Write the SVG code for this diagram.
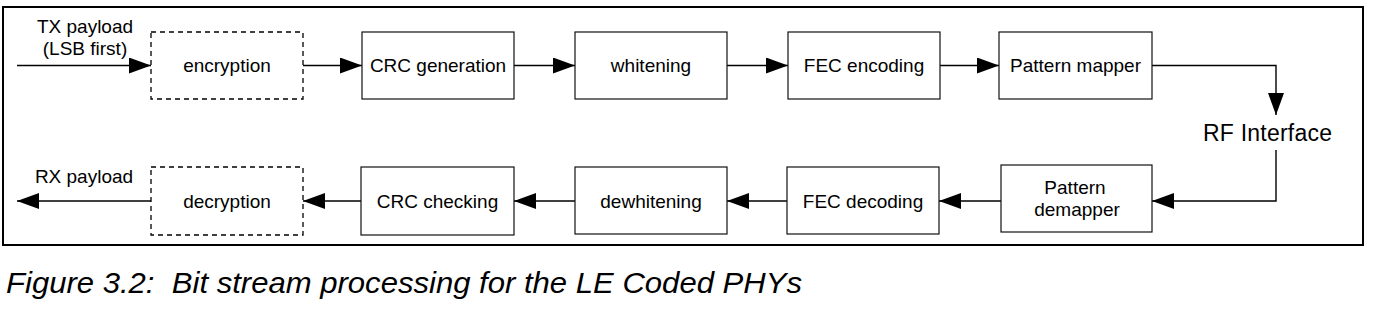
<svg xmlns="http://www.w3.org/2000/svg" width="1374" height="310" viewBox="0 0 1374 310">
<defs>
<style>
.box{fill:#fff;stroke:#111;stroke-width:1.2}
.dash{stroke:#000;stroke-width:1.3;stroke-dasharray:5,4}
.lbl{font-family:"Liberation Sans",Arial,sans-serif;font-size:19px;fill:#000;text-anchor:middle}
.ln{fill:none;stroke:#000;stroke-width:1.4}
.cap{font-family:"Liberation Sans",Arial,sans-serif;font-size:30px;font-style:italic;fill:#000}
</style>
<marker id="ah" markerUnits="userSpaceOnUse" markerWidth="24" markerHeight="18" refX="22" refY="8" orient="auto">
<path d="M0,0 L22,8 L0,16 z" fill="#000"/>
</marker>
</defs>
<rect width="1374" height="310" fill="#fff"/>
<rect x="3" y="7" width="1360" height="238" fill="none" stroke="#000" stroke-width="2"/>

<g id="connectors">
<path class="ln" d="M17,65.5 H151" marker-end="url(#ah)"/>
<path class="ln" d="M303,65.5 H362" marker-end="url(#ah)"/>
<path class="ln" d="M514,65.5 H575" marker-end="url(#ah)"/>
<path class="ln" d="M727,65.5 H788" marker-end="url(#ah)"/>
<path class="ln" d="M940,65.5 H999" marker-end="url(#ah)"/>
<path class="ln" d="M1152,65.5 H1276 V115" marker-end="url(#ah)"/>
<path class="ln" d="M1276,150 V201 H1152" marker-end="url(#ah)"/>
<path class="ln" d="M1001,201 H939" marker-end="url(#ah)"/>
<path class="ln" d="M787,201 H727" marker-end="url(#ah)"/>
<path class="ln" d="M575,201 H514" marker-end="url(#ah)"/>
<path class="ln" d="M361,201 H303" marker-end="url(#ah)"/>
<path class="ln" d="M151,201 H17" marker-end="url(#ah)"/>
</g>

<g id="tx-label">
<text class="lbl" x="85" y="33">TX payload</text>
<text class="lbl" x="85" y="55">(LSB first)</text>
</g>
<g id="rx-label">
<text class="lbl" x="84" y="183">RX payload</text>
</g>

<g id="encryption">
<rect class="box dash" x="151" y="32" width="152" height="67"/>
<text class="lbl" x="227" y="72">encryption</text>
</g>
<g id="crc-generation">
<rect class="box" x="362" y="32" width="152" height="67"/>
<text class="lbl" x="438" y="72">CRC generation</text>
</g>
<g id="whitening">
<rect class="box" x="575" y="32" width="152" height="67"/>
<text class="lbl" x="651" y="72">whitening</text>
</g>
<g id="fec-encoding">
<rect class="box" x="788" y="32" width="152" height="67"/>
<text class="lbl" x="864" y="72">FEC encoding</text>
</g>
<g id="pattern-mapper">
<rect class="box" x="999" y="32" width="153" height="67"/>
<text class="lbl" x="1075.5" y="72">Pattern mapper</text>
</g>

<g id="rf-interface">
<text x="1267.5" y="140.7" font-family="'Liberation Sans',Arial,sans-serif" font-size="23" fill="#000" text-anchor="middle" textLength="129" lengthAdjust="spacing">RF Interface</text>
</g>

<g id="pattern-demapper">
<rect class="box" x="1001" y="165" width="151" height="67"/>
<text class="lbl" x="1075" y="194">Pattern</text>
<text class="lbl" x="1077" y="216">demapper</text>
</g>
<g id="fec-decoding">
<rect class="box" x="787" y="167" width="152" height="67"/>
<text class="lbl" x="863" y="208">FEC decoding</text>
</g>
<g id="dewhitening">
<rect class="box" x="575" y="167" width="152" height="67"/>
<text class="lbl" x="651" y="208">dewhitening</text>
</g>
<g id="crc-checking">
<rect class="box" x="361" y="167" width="153" height="68"/>
<text class="lbl" x="437.5" y="208">CRC checking</text>
</g>
<g id="decryption">
<rect class="box dash" x="151" y="167" width="152" height="68"/>
<text class="lbl" x="227" y="208">decryption</text>
</g>

<text class="cap" x="6" y="293" xml:space="preserve" style="white-space:pre" textLength="796" lengthAdjust="spacingAndGlyphs">Figure 3.2:  Bit stream processing for the LE Coded PHYs</text>
</svg>
